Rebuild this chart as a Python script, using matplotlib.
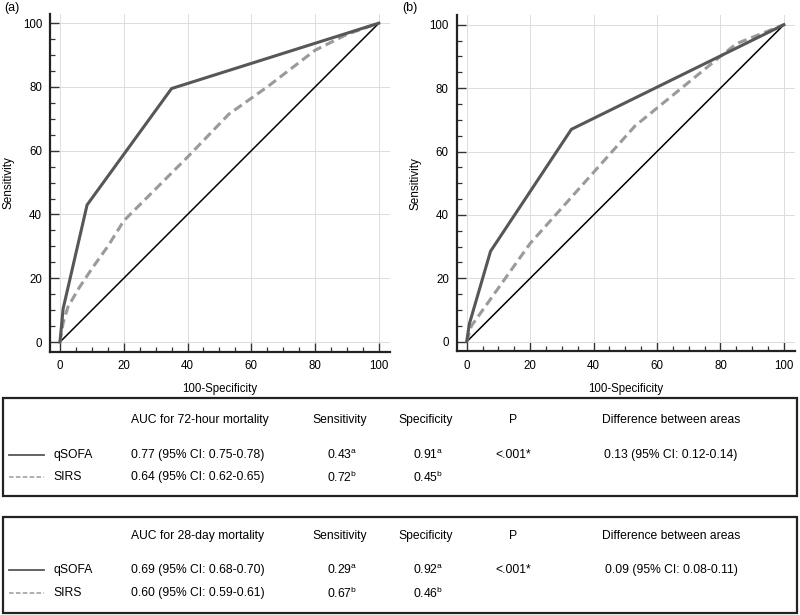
import matplotlib
matplotlib.use("Agg")
import matplotlib.pyplot as plt
from matplotlib.lines import Line2D
from matplotlib.patches import Rectangle
from matplotlib.ticker import MultipleLocator

plt.rcParams['font.family'] = ['Liberation Sans', 'DejaVu Sans']
plt.rcParams['mathtext.fontset'] = 'custom'
plt.rcParams['mathtext.rm'] = 'Liberation Sans'

# ROC curves (100-Specificity, Sensitivity)
a_qsofa_x = [0, 1, 8.5, 35, 100]
a_qsofa_y = [0, 10.5, 43, 79.5, 100]
a_sirs_x = [0, 1, 2.5, 6, 10, 15, 20, 30, 40, 53, 65, 80, 90, 100]
a_sirs_y = [0, 6, 11, 17, 23, 30, 38, 48, 58, 71.5, 80, 91.5, 96.5, 100]

b_qsofa_x = [0, 0.8, 7.5, 33, 100]
b_qsofa_y = [0, 5.5, 28.5, 67, 100]
b_sirs_x = [0, 1.5, 20, 53, 80, 85, 100]
b_sirs_y = [0, 5, 31, 68, 90, 94, 100]

# table contents
headers_72 = ["AUC for 72-hour mortality", "Sensitivity", "Specificity", "P", "Difference between areas"]
headers_28 = ["AUC for 28-day mortality", "Sensitivity", "Specificity", "P", "Difference between areas"]
auc_72 = ["0.77 (95% CI: 0.75-0.78)", "0.64 (95% CI: 0.62-0.65)"]
sens_72 = ["0.43", "0.72"]
spec_72 = ["0.91", "0.45"]
auc_28 = ["0.69 (95% CI: 0.68-0.70)", "0.60 (95% CI: 0.59-0.61)"]
sens_28 = ["0.29", "0.67"]
spec_28 = ["0.92", "0.46"]
sup_marks = ["a", "b"]
p_72 = "<.001*"
p_28 = "<.001*"
diff_72 = "0.13 (95% CI: 0.12-0.14)"
diff_28 = "0.09 (95% CI: 0.08-0.11)"
models = ["qSOFA", "SIRS"]

W, H = 800, 615
QS_COLOR = '#575757'
SI_COLOR = '#9a9a9a'

fig = plt.figure(figsize=(8, 6.15), dpi=100)


def px_rect(left, top, right, bottom):
    return [left / W, 1 - bottom / H, (right - left) / W, (bottom - top) / H]


def roc_panel(rect, qx, qy, sx, sy, tag, tag_x):
    ax = fig.add_axes(rect)
    ax.plot([0, 100], [0, 100], color='black', lw=1.1, zorder=2)
    ax.plot(sx, sy, color=SI_COLOR, lw=2.2, ls=(0, (3, 1.6)), zorder=3)
    ax.plot(qx, qy, color=QS_COLOR, lw=2.2, zorder=4)
    ax.set_xlim(-3, 103.5)
    ax.set_ylim(-3, 103)
    ax.xaxis.set_major_locator(MultipleLocator(20))
    ax.yaxis.set_major_locator(MultipleLocator(20))
    ax.xaxis.set_minor_locator(MultipleLocator(5))
    ax.yaxis.set_minor_locator(MultipleLocator(5))
    ax.grid(True, which='major', color='#dcdcdc', lw=0.7)
    ax.set_axisbelow(True)
    for s in ['top', 'right']:
        ax.spines[s].set_visible(False)
    for s in ['left', 'bottom']:
        ax.spines[s].set_linewidth(1.6)
        ax.spines[s].set_color('#222222')
    ax.tick_params(which='major', direction='in', length=6.5, width=1.0,
                   color='#333333', labelsize=8.3, pad=6)
    ax.tick_params(which='minor', direction='in', length=3.5, width=0.9, color='#333333')
    ax.set_xlabel("100-Specificity", fontsize=8.3, labelpad=8)
    ax.set_ylabel("Sensitivity", fontsize=8.5, labelpad=6)
    fig.text(tag_x / W, 1 - 8 / H, tag, fontsize=9, va='center', ha='left')
    return ax


roc_panel(px_rect(50.4, 13.6, 390, 351.6), a_qsofa_x, a_qsofa_y, a_sirs_x, a_sirs_y, "(a)", 4)
roc_panel(px_rect(457.2, 15.2, 795, 351.2), b_qsofa_x, b_qsofa_y, b_sirs_x, b_sirs_y, "(b)", 402)

# tables drawn on a full-figure overlay in pixel coordinates
ov = fig.add_axes([0, 0, 1, 1])
ov.set_xlim(0, W)
ov.set_ylim(H, 0)
ov.axis('off')

col_x = [131, 340, 426, 513, 671]
FS = 8.7


def sup_text(x, y, val, mark):
    ov.text(x, y, val + r"$^{\mathrm{" + mark + "}}$", fontsize=FS, ha='center', va='center')


def table_box(top, bottom, y_head, y_rows, headers, auc, sens, spec, p, diff):
    ov.add_patch(Rectangle((3, top), 794, bottom - top, fill=False,
                           edgecolor='#222222', lw=1.6))
    ov.text(col_x[0], y_head, headers[0], fontsize=FS, ha='left', va='center')
    for cx, h in zip(col_x[1:], headers[1:]):
        ov.text(cx, y_head, h, fontsize=FS, ha='center', va='center')
    for i, y in enumerate(y_rows):
        if i == 0:
            ov.add_line(Line2D([9, 44], [y, y], color=QS_COLOR, lw=1.3))
        else:
            ov.add_line(Line2D([9, 44], [y, y], color=SI_COLOR, lw=1.1, ls=(0, (3, 1.5))))
        ov.text(53, y, models[i], fontsize=FS, ha='left', va='center')
        ov.text(col_x[0], y, auc[i], fontsize=FS, ha='left', va='center')
        sup_text(col_x[1] + 2, y, sens[i], sup_marks[i])
        sup_text(col_x[2] + 2, y, spec[i], sup_marks[i])
    ov.text(col_x[3], y_rows[0], p, fontsize=FS, ha='center', va='center')
    ov.text(col_x[4], y_rows[0], diff, fontsize=FS, ha='center', va='center')


table_box(398, 496, 420, [455, 477], headers_72, auc_72, sens_72, spec_72, p_72, diff_72)
table_box(517, 613, 536, [570, 593], headers_28, auc_28, sens_28, spec_28, p_28, diff_28)

fig.savefig("out.png", dpi=100)
